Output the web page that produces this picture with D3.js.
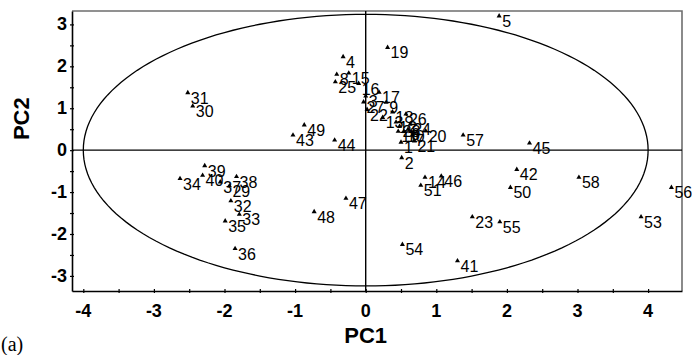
<!DOCTYPE html>
<html>
<head>
<meta charset="utf-8">
<script src="https://cdn.jsdelivr.net/npm/d3@7/dist/d3.min.js"></script>
<style>
  body { margin: 0; background: #fff; }
  .pt_label { font-family: "Liberation Sans", Arial, Helvetica, sans-serif; font-size: 16px; }
  .tick_label { font-family: "Liberation Sans", Arial, Helvetica, sans-serif; font-size: 18px; font-weight: bold; }
  .axis_title { font-family: "Liberation Sans", Arial, Helvetica, sans-serif; font-size: 22px; font-weight: bold; }
  .panel_tag { font-family: "Liberation Serif", "Times New Roman", serif; font-size: 20px; }
</style>
</head>
<body>
<div id="graphic"></div>
<script>
// sample numbers and their scores on the first two components
const sampleIds = [1, 2, 3, 4, 5, 6, 7, 8, 9, 10, 11, 12, 13, 14, 15, 16, 17, 18, 19, 20,
  21, 22, 23, 24, 25, 26, 27, 28, 29, 30, 31, 32, 33, 34, 35, 36, 37, 38, 39, 40,
  41, 42, 43, 44, 45, 46, 47, 48, 49, 50, 51, 53, 54, 55, 56, 57, 58];
const pc1 = [0.50, 0.51, 0.00, -0.32, 1.89, 0.60, 0.66, -0.41, 0.29, 0.54, 0.46, 0.43, 0.24, 0.84, -0.24, -0.10, 0.19, 0.38, 0.31, 0.85,
  0.69, 0.02, 1.51, 0.63, -0.43, 0.57, -0.03, 0.48, -1.93, -2.45, -2.52, -1.91, -1.79, -2.63, -1.99, -1.85, -2.06, -1.83, -2.28, -2.31,
  1.30, 2.14, -1.03, -0.44, 2.32, 1.07, -0.28, -0.73, -0.87, 2.05, 0.78, 3.90, 0.52, 1.90, 4.33, 1.38, 3.02];
const pc2 = [0.19, -0.18, 1.29, 2.23, 3.20, 0.50, 0.36, 1.81, 1.14, 0.45, 0.45, 0.67, 0.78, -0.65, 1.84, 1.59, 1.38, 0.91, 2.45, 0.46,
  0.22, 0.97, -1.59, 0.62, 1.63, 0.86, 1.15, 0.57, -0.85, 1.05, 1.37, -1.21, -1.53, -0.68, -1.69, -2.35, -0.76, -0.63, -0.37, -0.60,
  -2.64, -0.46, 0.36, 0.24, 0.17, -0.62, -1.15, -1.47, 0.60, -0.89, -0.84, -1.59, -2.25, -1.71, -0.89, 0.36, -0.65];

const xTicks = [-4, -3, -2, -1, 0, 1, 2, 3, 4];
const yTicks = [-3, -2, -1, 0, 1, 2, 3];
const xMinorTicks = d3.range(-4, 4.01, 0.5);
const yMinorTicks = d3.range(-3, 3.01, 0.5);
// confidence ellipse half-axes (PC1, PC2)
const ellipseRadii = [4, 3.24];

const data = sampleIds.map((id, i) => ({ id: id, pc1: pc1[i], pc2: pc2[i] }));

const width = 692, height = 355;
const margin = { top: 11, right: 10, bottom: 64, left: 72 };

const x = d3.scaleLinear()
  .domain([-4.16, 4.48])
  .range([margin.left, width - margin.right]);
const y = d3.scaleLinear()
  .domain([-3.36, 3.32])
  .range([height - margin.bottom, margin.top]);

const svg = d3.select('#graphic').append('svg')
  .attr('width', width)
  .attr('height', height);

// frame: grey top / right, black axes
svg.append('path')
  .attr('d', 'M' + x.range()[0] + ',' + y.range()[1] + 'H' + x.range()[1] + 'V' + y.range()[0])
  .attr('fill', 'none')
  .attr('stroke', '#6e6e6e')
  .attr('stroke-width', 1.6);

// zero lines
svg.append('line')
  .attr('x1', x(0)).attr('x2', x(0))
  .attr('y1', y.range()[1]).attr('y2', y.range()[0])
  .attr('stroke', '#000').attr('stroke-width', 1.4);
svg.append('line')
  .attr('x1', x.range()[0]).attr('x2', x.range()[1])
  .attr('y1', y(0)).attr('y2', y(0))
  .attr('stroke', '#000').attr('stroke-width', 1.4);

// ellipse
const thetas = d3.range(0, 2 * Math.PI, Math.PI / 90);
const ellipseLine = d3.line()
  .x(t => x(ellipseRadii[0] * Math.cos(t)))
  .y(t => y(ellipseRadii[1] * Math.sin(t)))
  .curve(d3.curveLinearClosed);
svg.append('path')
  .datum(thetas)
  .attr('d', ellipseLine)
  .attr('fill', 'none')
  .attr('stroke', '#000')
  .attr('stroke-width', 1.3);

// bottom axis
const xAxis = svg.append('g')
  .attr('transform', 'translate(0,' + y.range()[0] + ')')
  .call(d3.axisBottom(x).tickValues(xMinorTicks).tickSize(2).tickSizeOuter(0).tickFormat(''));
xAxis.select('.domain').attr('stroke-width', 1.6);
xAxis.selectAll('.tick line').attr('y1', -2).attr('stroke-width', 1.2);

svg.selectAll('.x_label')
  .data(xTicks)
  .enter().append('text')
  .attr('class', 'tick_label')
  .attr('x', d => x(d))
  .attr('y', y.range()[0] + 26)
  .attr('text-anchor', 'middle')
  .text(d => d);

// left axis
const yAxis = svg.append('g')
  .attr('transform', 'translate(' + x.range()[0] + ',0)')
  .call(d3.axisLeft(y).tickValues(yMinorTicks).tickSize(2).tickSizeOuter(0).tickFormat(''));
yAxis.select('.domain').attr('stroke-width', 1.6);
yAxis.selectAll('.tick line').attr('x1', 2).attr('stroke-width', 1.2);

svg.selectAll('.y_label')
  .data(yTicks)
  .enter().append('text')
  .attr('class', 'tick_label')
  .attr('x', x.range()[0] - 5)
  .attr('y', d => y(d) + 6)
  .attr('text-anchor', 'end')
  .text(d => d);

// axis titles
svg.append('text')
  .attr('class', 'axis_title')
  .attr('x', x(0))
  .attr('y', height - 12)
  .attr('text-anchor', 'middle')
  .text('PC1');
svg.append('text')
  .attr('class', 'axis_title')
  .attr('transform', 'translate(29,' + y(0.75) + ') rotate(-90)')
  .attr('text-anchor', 'middle')
  .text('PC2');

svg.append('text')
  .attr('class', 'panel_tag')
  .attr('x', 1)
  .attr('y', height - 4)
  .text('(a)');

// points
const tri = d3.symbol().type(d3.symbolTriangle).size(11);
const pts = svg.selectAll('.pt')
  .data(data)
  .enter().append('g')
  .attr('class', 'pt')
  .attr('transform', d => 'translate(' + x(d.pc1) + ',' + y(d.pc2) + ')');

pts.append('path')
  .attr('d', tri)
  .attr('fill', '#000');

pts.append('text')
  .attr('class', 'pt_label')
  .attr('x', 3)
  .attr('y', 11)
  .text(d => d.id);
</script>
</body>
</html>
